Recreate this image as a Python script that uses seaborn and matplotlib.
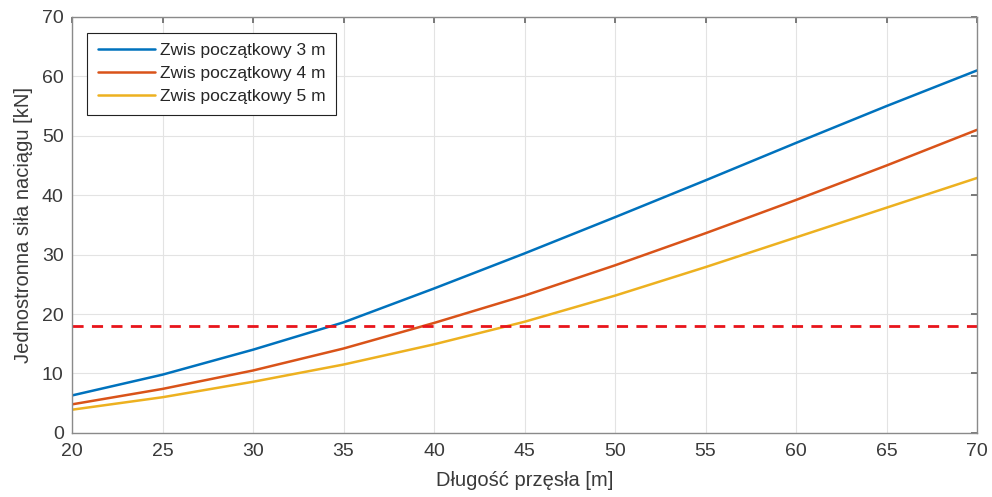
import matplotlib
matplotlib.use('Agg')
import matplotlib.pyplot as plt
import seaborn as sns
import pandas as pd

# dane
rozpietosc = [20, 25, 30, 35, 40, 45, 50, 55, 60, 65, 70]
zwis_3m = [6.3, 9.8, 14.0, 18.6, 24.3, 30.2, 36.3, 42.5, 48.8, 55.0, 61.0]
zwis_4m = [4.8, 7.4, 10.5, 14.2, 18.5, 23.1, 28.2, 33.6, 39.2, 45.0, 51.0]
zwis_5m = [3.9, 6.0, 8.6, 11.5, 14.9, 18.7, 23.1, 27.9, 32.9, 37.9, 42.9]
etykiety = ['Zwis początkowy 3 m', 'Zwis początkowy 4 m', 'Zwis początkowy 5 m']
limit_sily = 18

sns.set_theme(style='whitegrid')
plt.rcParams['font.family'] = ['Liberation Sans', 'DejaVu Sans']

df = pd.DataFrame({
    'x': rozpietosc * 3,
    'y': zwis_3m + zwis_4m + zwis_5m,
    'seria': [etykiety[0]] * 11 + [etykiety[1]] * 11 + [etykiety[2]] * 11,
})

fig = plt.figure(figsize=(9.92, 4.97), dpi=100)
ax = fig.add_axes([0.0726, 0.129, 0.9124, 0.837])

kolory = ['#0072BD', '#D95319', '#EDB120']
sns.lineplot(data=df, x='x', y='y', hue='seria', palette=kolory, linewidth=1.8, ax=ax)
ax.axhline(limit_sily, color='#e8141b', linestyle=(0, (4, 3)), linewidth=2)

ax.set_xlim(20, 70)
ax.set_ylim(0, 70)
ax.set_xticks(range(20, 71, 5))
ax.set_yticks(range(0, 71, 10))
ax.set_xlabel('Długość przęsła [m]', fontsize=14.5, color='#3a3a3a', labelpad=8)
ax.set_ylabel('Jednostronna siła naciągu [kN]', fontsize=14.5, color='#3a3a3a', labelpad=6)
ax.tick_params(axis='both', labelsize=14, colors='#6a6a6a', labelcolor='#3a3a3a',
               direction='in', length=4, top=True, right=True)
ax.tick_params(axis='x', pad=7)
ax.tick_params(axis='y', pad=6)
ax.grid(True, color='#e3e3e3', linewidth=0.8)
for s in ax.spines.values():
    s.set_color('#8a8a8a')
    s.set_linewidth(1)

leg = ax.legend(loc='upper left', bbox_to_anchor=(0.017, 0.962), fontsize=12.5,
                frameon=True, fancybox=False, edgecolor='#222222',
                handlelength=3.3, handletextpad=0.3, borderpad=0.6, labelspacing=0.45,
                borderaxespad=0)
leg.get_frame().set_linewidth(0.8)
leg.get_frame().set_alpha(1)

fig.savefig('out.png', dpi=100)
